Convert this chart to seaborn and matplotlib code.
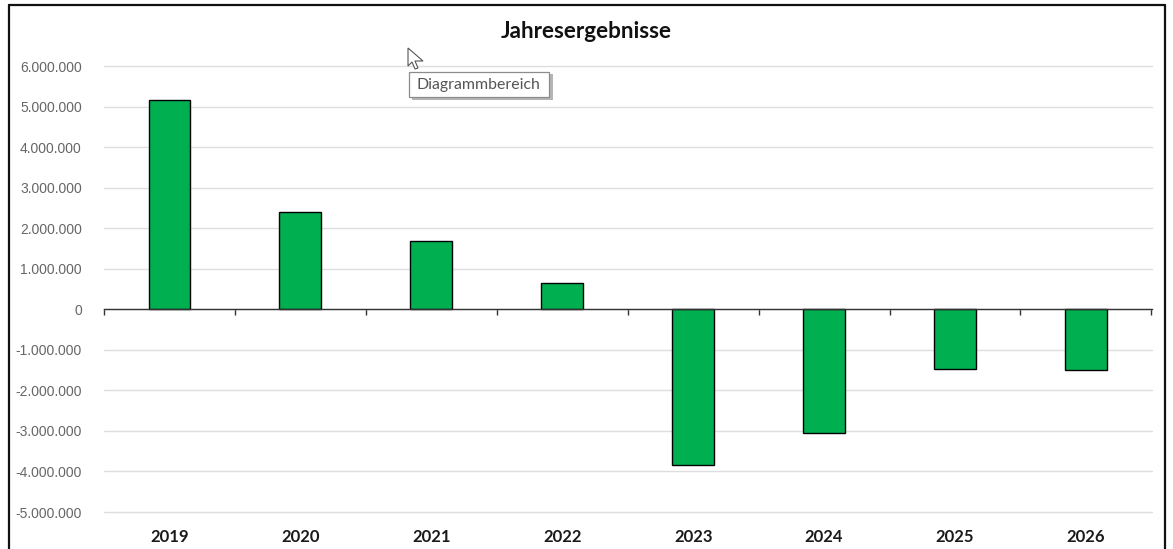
import numpy as np
import pandas as pd
import matplotlib
matplotlib.use('Agg')
import matplotlib.pyplot as plt
from matplotlib.lines import Line2D
from matplotlib.patches import Polygon, Rectangle
import seaborn as sns

# Werte
jahre = ['2019', '2020', '2021', '2022', '2023', '2024', '2025', '2026']
ergebnisse = [5160000, 2390000, 1680000, 640000, -3850000, -3060000, -1480000, -1510000]
y_ticks = [6000000, 5000000, 4000000, 3000000, 2000000, 1000000, 0,
           -1000000, -2000000, -3000000, -4000000, -5000000]
y_labels = ['6.000.000', '5.000.000', '4.000.000', '3.000.000', '2.000.000', '1.000.000', '0',
            '-1.000.000', '-2.000.000', '-3.000.000', '-4.000.000', '-5.000.000']

df = pd.DataFrame({'jahr': jahre, 'ergebnis': ergebnisse})

W, H = 1173, 549
sns.set_theme(style='white')
plt.rcParams['font.family'] = ['Lato', 'DejaVu Sans']

fig = plt.figure(figsize=(W / 100, H / 100), dpi=100)
ax = fig.add_axes([104 / W, 1 - 512 / H, (1152 - 104) / W, (512 - 66) / H])

sns.barplot(data=df, x='jahr', y='ergebnis', color='#00B050', saturation=1,
            width=0.32, edgecolor='black', linewidth=1.0, zorder=3, ax=ax)

ax.set_xlim(-0.495, 7.505)
ax.set_ylim(-5000000, 6000000)
ax.set_xlabel('')
ax.set_ylabel('')

# Gitter und Achsen
ax.set_yticks(y_ticks)
ax.set_yticklabels(y_labels, fontsize=10, color='#666666', family='Liberation Sans')
ax.tick_params(axis='y', length=0, pad=16)
ax.grid(axis='y', color='#DEDEDE', linewidth=1.0, zorder=0)
ax.set_axisbelow(True)
for g in ax.get_ygridlines():
    g.set_clip_on(False)

for s in ['left', 'right', 'top']:
    ax.spines[s].set_visible(False)
ax.spines['bottom'].set_position(('data', 0))
ax.spines['bottom'].set_color('#333333')
ax.spines['bottom'].set_linewidth(1.0)
ax.spines['bottom'].set_zorder(4)

# Jahre unten, Teilstriche zwischen den Jahren an der Null-Linie
ax.set_xticks(range(len(jahre)))
ax.set_xticklabels(jahre, fontsize=12, fontweight='bold', color='#1a1a1a')
ax.tick_params(axis='x', which='major', length=0, pad=158)
ax.set_xticks(np.arange(-0.5, len(jahre)), minor=True)
ax.tick_params(axis='x', which='minor', length=4, width=1.0, color='#333333',
               direction='out', bottom=True)

fig.text(586 / W, 1 - 31 / H, 'Jahresergebnisse', ha='center', va='center',
         fontsize=16.2, fontweight='bold', color='#111111')

# Rahmen des Diagrammbereichs
for xs, ys in [([9, 9], [5, H]), ([9, 1165], [5, 5]), ([1165, 1165], [5, H])]:
    fig.add_artist(Line2D([x / W for x in xs], [1 - y / H for y in ys],
                          color='#111111', linewidth=1.6))

# Tooltip mit Schatten und Mauszeiger
fig.add_artist(Rectangle((412 / W, 1 - 100 / H), 141 / W, 26 / H, facecolor='#B5B5B5',
                         edgecolor='none', transform=fig.transFigure, zorder=9))
fig.add_artist(Rectangle((409 / W, 1 - 97 / H), 140 / W, 25 / H, facecolor='white',
                         edgecolor='#8C8C8C', linewidth=0.9, transform=fig.transFigure, zorder=10))
fig.text(417 / W, 1 - 85 / H, 'Diagrammbereich', ha='left', va='center',
         fontsize=11.4, color='#555555', family='Lato', zorder=11)
cursor = [(408, 48), (408, 66), (412, 62), (415, 69), (418, 68), (415, 61), (423, 61)]
fig.add_artist(Polygon([(x / W, 1 - y / H) for x, y in cursor], closed=True,
                       facecolor='white', edgecolor='#555555', linewidth=0.8,
                       transform=fig.transFigure, zorder=12))

fig.savefig('out.png', dpi=100)
